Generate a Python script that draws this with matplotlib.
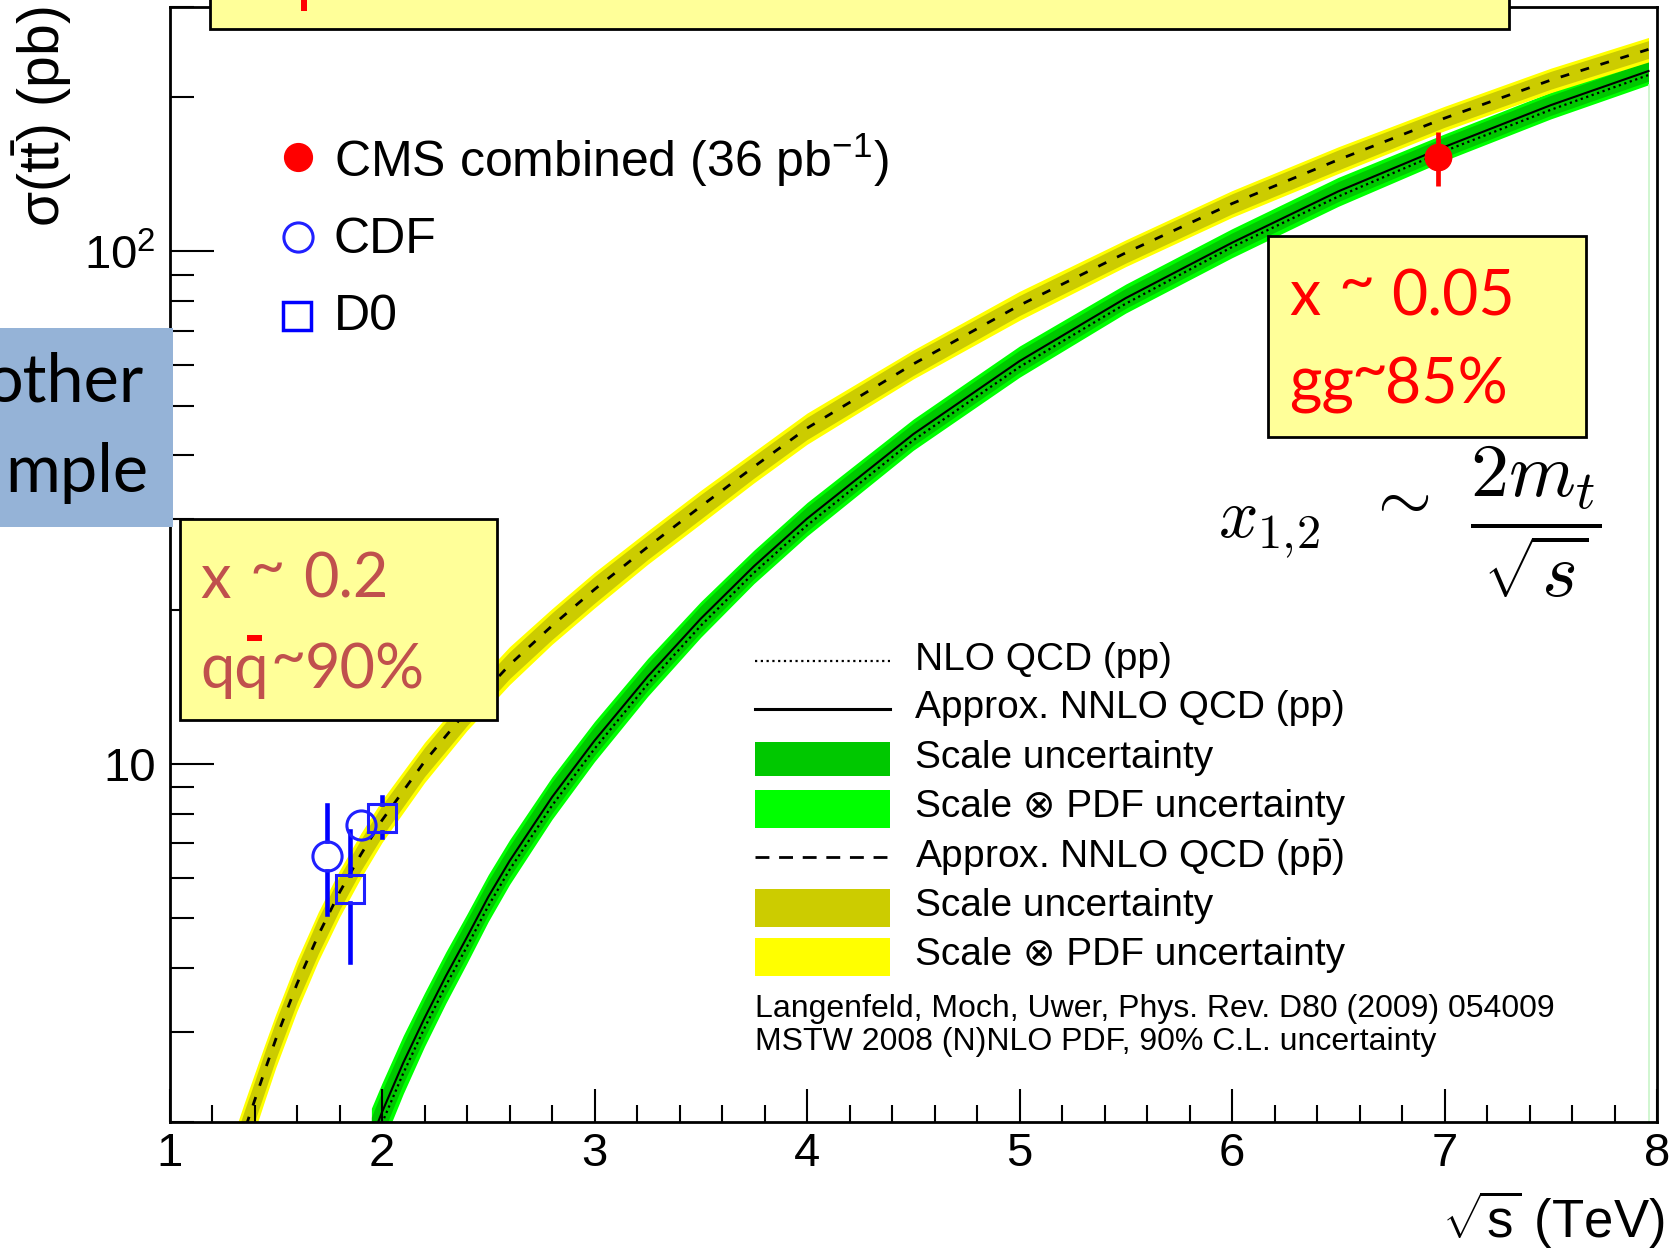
import matplotlib.pyplot as plt
import numpy as np
from matplotlib.lines import Line2D
from matplotlib.patches import Rectangle
from matplotlib.ticker import FixedLocator, MultipleLocator, NullFormatter

plt.rcParams['font.family'] = ['Liberation Sans', 'DejaVu Sans']
plt.rcParams['mathtext.fontset'] = 'custom'
plt.rcParams['mathtext.rm'] = 'Liberation Sans'
plt.rcParams['mathtext.it'] = 'Liberation Sans:italic'

# ttbar cross sections vs sqrt(s), Langenfeld/Moch/Uwer approx. NNLO
sqrts_ppbar = [1.30, 1.35, 1.40, 1.45, 1.50, 1.60, 1.70, 1.80, 1.90, 2.00, 2.20, 2.40, 2.60, 2.80,
               3.00, 3.25, 3.50, 3.75, 4.00, 4.50, 5.00, 5.50, 6.00, 6.50, 7.00, 7.50, 7.96]
sigma_ppbar = [1.65, 1.91, 2.20, 2.53, 2.90, 3.72, 4.63, 5.61, 6.65, 7.76, 10.1, 12.7, 15.6, 18.6,
               21.9, 26.5, 31.8, 38.0, 45.2, 60.3, 78.5, 99.4, 124, 151, 182, 216, 248]
scale_ppbar = [10, 9.5, 9, 9, 8.5, 8, 8, 7.5, 7, 7, 6.5, 6.5, 6, 6,
               6, 5.5, 5.5, 5, 5, 5, 4.5, 4.5, 4.5, 4.5, 4, 4, 4]   # %
total_ppbar = [14, 13.5, 13, 12.5, 12, 11.5, 11, 10.5, 10, 9.5, 9, 8.5, 8.5, 8,
               8, 7.5, 7.5, 7, 7, 6.5, 6.5, 6, 6, 6, 5.5, 5.5, 5.5]   # %

sqrts_pp = [1.95, 2.00, 2.10, 2.20, 2.30, 2.40, 2.50, 2.60, 2.80, 3.00, 3.25,
            3.50, 3.75, 4.00, 4.50, 5.00, 5.50, 6.00, 6.50, 7.00, 7.50, 7.96]
sigma_pp = [1.85, 2.09, 2.61, 3.19, 3.85, 4.59, 5.50, 6.46, 8.61, 11.1, 14.8,
            19.2, 24.3, 30.1, 44.0, 61.1, 81.1, 104, 131, 160, 193, 225]
sigma_pp_nlo = [1.76, 1.99, 2.49, 3.05, 3.69, 4.40, 5.28, 6.21, 8.29, 10.7, 14.3,
                18.6, 23.6, 29.2, 42.8, 59.5, 79.1, 102, 128, 157, 189, 221]
scale_pp = [10.5, 10, 9, 8.5, 8, 8, 7.5, 7, 7, 6.5, 6,
            6, 5.5, 5.5, 5, 5, 4.5, 4.5, 4.5, 4.5, 4.5, 4.5]   # %
total_pp = [15, 14, 13, 12, 11.5, 11, 10.5, 10, 9.5, 9, 8.5,
            8, 7.5, 7.5, 7, 7, 6.5, 6.5, 6.5, 6, 6, 6]   # %

# measurements
cms_x, cms_y, cms_lo, cms_hi = [6.97], [153.0], [19.0], [18.0]
cdf_x, cdf_y = [1.74, 1.90], [6.6, 7.6]
cdf_lo, cdf_hi = [1.5, 0.5], [1.7, 0.5]
d0_x, d0_y = [1.85, 2.00], [5.7, 7.85]
d0_lo, d0_hi = [1.6, 0.65], [1.7, 0.75]

xticks = [1, 2, 3, 4, 5, 6, 7, 8]
yticks = [10, 100]
ytick_labels = ['10', r'$\mathregular{10^2}$']
yminor = [2, 3, 4, 5, 6, 7, 8, 9, 20, 30, 40, 50, 60, 70, 80, 90, 200, 300]

W, H = 1671, 1254
fig = plt.figure(figsize=(W / 100, H / 100), dpi=100)


def fx(x):
    return x / W


def fy(y):
    return 1 - y / H


ax = fig.add_axes([fx(169.5), fy(1122), (1657 - 169.5) / W, (1122 - 7) / H])
ax.set_yscale('log')
ax.set_xlim(1, 8)
ax.set_ylim(2, 300)


def band(x, y, pct, color):
    y = np.array(y, dtype=float)
    p = np.array(pct, dtype=float) / 100
    ax.fill_between(x, y * (1 - p), y * (1 + p), color=color, lw=0)


# pp bands and lines
band(sqrts_pp, sigma_pp, total_pp, '#00ff00')
band(sqrts_pp, sigma_pp, scale_pp, '#00c800')
ax.plot(sqrts_pp, sigma_pp_nlo, color='k', lw=1.6, ls=(0, (1, 1.6)))
ax.plot(sqrts_pp, sigma_pp, color='k', lw=1.5)
# closing edge of the pp fill
ax.plot([sqrts_pp[-1]] * 2, [2, sigma_pp[-1] * (1 - total_pp[-1] / 100)],
        color='#c8f5c8', lw=1.2)

# ppbar bands and line
band(sqrts_ppbar, sigma_ppbar, total_ppbar, '#ffff00')
band(sqrts_ppbar, sigma_ppbar, scale_ppbar, '#cccc00')
ax.plot(sqrts_ppbar, sigma_ppbar, color='k', lw=2, ls=(0, (3.2, 4.3)))

# CMS point
ax.errorbar(cms_x, cms_y, yerr=[cms_lo, cms_hi], fmt='o', color='red', ms=19,
            elinewidth=3.4, capsize=0, zorder=5)


def open_points(x, y, lo, hi, marker, ms, gap_px):
    # error bars stop at the marker edge
    g = 10 ** (gap_px / 515)
    for xi, yi, l, h in zip(x, y, lo, hi):
        if yi - l < yi / g:
            ax.plot([xi, xi], [yi - l, yi / g], color='#0000ff', lw=3.3, zorder=5)
        if yi + h > yi * g:
            ax.plot([xi, xi], [yi * g, yi + h], color='#0000ff', lw=3.3, zorder=5)
    ax.plot(x, y, ls='none', marker=marker, ms=ms, mfc='none', mec='#2020ff',
            mew=2.2, zorder=6)


open_points(cdf_x, cdf_y, cdf_lo, cdf_hi, 'o', 21, 15)
open_points(d0_x, d0_y, d0_lo, d0_hi, 's', 20, 14)

# axes styling
ax.set_xticks(xticks)
ax.xaxis.set_minor_locator(MultipleLocator(0.2))
ax.yaxis.set_major_locator(FixedLocator(yticks))
ax.set_yticklabels(ytick_labels)
ax.yaxis.set_minor_locator(FixedLocator(yminor))
ax.yaxis.set_minor_formatter(NullFormatter())
ax.tick_params(which='both', direction='in', top=False, right=False, width=1.5)
ax.tick_params(axis='y', which='major', length=32, pad=10, labelsize=34)
ax.tick_params(axis='y', which='minor', length=17)
ax.tick_params(axis='x', which='major', length=24, pad=7, labelsize=34)
ax.tick_params(axis='x', which='minor', length=12)
for s in ax.spines.values():
    s.set_linewidth(2)

fig.text(fx(42), fy(7), r'$\mathregular{\sigma(t\bar{t})}$ (pb)', rotation=90,
         ha='center', va='top', fontsize=41)
fig.text(fx(1665), fy(1238), r'$\sqrt{\mathregular{s}}$ (TeV)', ha='right',
         va='baseline', fontsize=38)

# measurement legend
fig.add_artist(Line2D([fx(298)], [fy(157)], marker='o', color='red', ms=20,
                      transform=fig.transFigure))
fig.add_artist(Line2D([fx(298)], [fy(237)], marker='o', mfc='none', mec='#2020ff',
                      mew=2.2, ms=21, transform=fig.transFigure))
fig.add_artist(Line2D([fx(297)], [fy(316)], marker='s', mfc='none', mec='#0000ff',
                      mew=2.5, ms=20, transform=fig.transFigure))
fig.text(fx(334), fy(177), r'CMS combined (36 pb$^{-1}$)', fontsize=36, va='baseline')
fig.text(fx(334), fy(253), 'CDF', fontsize=36, va='baseline')
fig.text(fx(334), fy(330), 'D0', fontsize=36, va='baseline')

# theory legend
lx0, lx1 = 755, 890


def key_line(y, ls, lw):
    fig.add_artist(Line2D([fx(lx0), fx(lx1)], [fy(y), fy(y)], color='k', lw=lw, ls=ls,
                          transform=fig.transFigure))


def key_box(y0, y1, color):
    fig.add_artist(Rectangle((fx(lx0), fy(y1)), fx(lx1 - lx0), (y1 - y0) / H,
                             color=color, lw=0, transform=fig.transFigure))


key_line(661, (0, (1, 1.6)), 1.6)
key_line(709, '-', 2.2)
key_box(742, 776, '#00c800')
key_box(790, 828, '#00ff00')
key_line(857, (0, (5, 3.5)), 2)
key_box(889, 927, '#cccc00')
key_box(938, 976, '#ffff00')

legend_rows = [(670, 'NLO QCD (pp)'),
               (718, 'Approx. NNLO QCD (pp)'),
               (768, 'Scale uncertainty'),
               (817, 'Scale \u2297 PDF uncertainty'),
               (868, r'Approx. NNLO QCD (p$\bar{\mathregular{p}}$)'),
               (916, 'Scale uncertainty'),
               (965, 'Scale \u2297 PDF uncertainty')]
for yb, txt in legend_rows:
    fig.text(fx(915), fy(yb), txt, fontsize=28, va='baseline')
fig.text(fx(755), fy(1017), 'Langenfeld, Moch, Uwer, Phys. Rev. D80 (2009) 054009',
         fontsize=23, va='baseline')
fig.text(fx(755), fy(1050), 'MSTW 2008 (N)NLO PDF, 90% C.L. uncertainty',
         fontsize=23, va='baseline')


# slide overlays
def slide_box(x0, y0, x1, y1, face, edge='k'):
    fig.add_artist(Rectangle((fx(x0), fy(y1)), (x1 - x0) / W, (y1 - y0) / H,
                             facecolor=face, edgecolor=edge, lw=2 if edge else 0,
                             transform=fig.transFigure, zorder=4))


def slide_line(parts, baseline, size, color):
    # parts: (left x, text, lift in px); the tilde sits high in this font
    for x0, txt, lift in parts:
        fig.text(fx(x0), fy(baseline) + lift / H, txt, fontsize=size,
                 family='Lato', color=color, va='baseline', zorder=6)


slide_box(210, -10, 1509, 29, '#ffff99')
fig.add_artist(Rectangle((fx(301), fy(11)), 6 / W, 11 / H, color='red', lw=0,
                         transform=fig.transFigure, zorder=5))

slide_box(-5, 328, 173, 527, '#95b3d7', edge=None)
fig.text(fx(143), fy(402), 'other', fontsize=48, family='Lato', ha='right',
         va='baseline', zorder=6)
fig.text(fx(148), fy(492), 'mple', fontsize=48, family='Lato', ha='right',
         va='baseline', zorder=6)

slide_box(180, 519, 497, 720, '#ffff99')
slide_line([(200, 'x', 0), (249, '~', 12), (303, '0.2', 0)], 598, 44, '#c0504d')
slide_line([(200, 'qq', 0), (270, '~', 12), (305, '90%', 0)], 688, 44, '#c0504d')
fig.add_artist(Rectangle((fx(247), fy(641)), 15 / W, 6 / H, color='red', lw=0,
                         transform=fig.transFigure, zorder=7))

slide_box(1268, 236, 1586, 437, '#ffff99')
slide_line([(1289, 'x', 0), (1338, '~', 13), (1391, '0.05', 0)], 315, 45, 'red')
slide_line([(1289, 'gg', 0), (1351, '~', 13), (1385, '85%', 0)], 403, 45, 'red')

# x_{1,2} ~ 2 m_t / sqrt(s)
fig.text(fx(1218), fy(537), r'$x_{1,\!2}$', fontsize=50, math_fontfamily='cm',
         va='baseline')
fig.text(fx(1397), fy(500), r'$\sim$', fontsize=50, math_fontfamily='cm',
         ha='center', va='center')
fig.text(fx(1536), fy(522), r'$\dfrac{2m_t}{\sqrt{s}}$', fontsize=55,
         math_fontfamily='cm', ha='center', va='center')

plt.savefig('out.png', dpi=100)
